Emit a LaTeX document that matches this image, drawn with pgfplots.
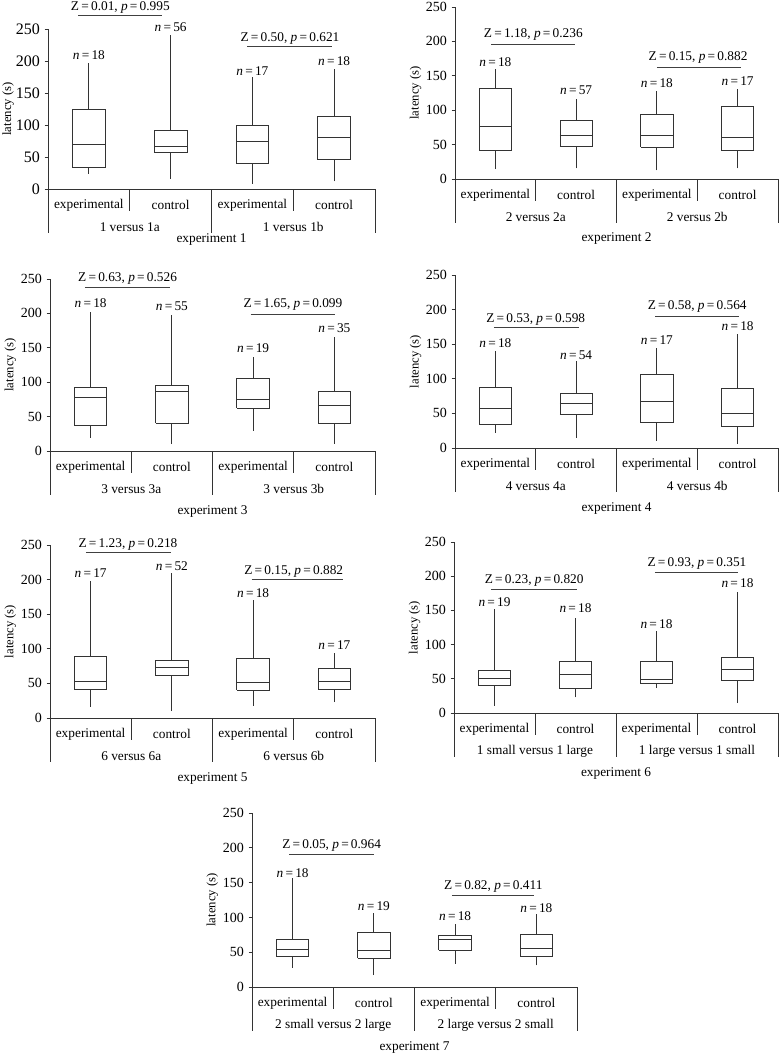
\documentclass[border=0pt]{standalone}
\usepackage{fontspec}
\setmainfont{Liberation Serif}
\usepackage{pgfplots}
\pgfplotsset{compat=1.18}

\pgfplotsset{
  panel/.style={
    scale only axis, anchor=south west,
    xmin=-0.5, xmax=3.5, ymin=0, ymax=250,
    axis lines=left, axis line style={-, black!80, line width=0.6pt},
    xtick=\empty, ytick={0,50,...,250},
    tick align=outside, major tick length=2.5pt,
    ytick style={black!80, line width=0.6pt},
    clip=false,
    ylabel={latency (s)},
    ylabel style={at={(axis description cs:-0.122,0.5)}, anchor=center, font=\fontsize{9.5}{11}\selectfont},
    yticklabel style={font=\fontsize{10.5}{12}\selectfont},
    /pgf/number format/assume math mode=true,
  },
  boxst/.style={black!80, line width=0.6pt, mark=none, forget plot},
}
% \bx{left}{centre}{right}{upper whisker}{upper quartile}{median}{lower quartile}{lower whisker}
\newcommand{\bx}[8]{%
  \addplot[boxst] coordinates {(#1,#7) (#3,#7) (#3,#5) (#1,#5) (#1,#7)};
  \addplot[boxst] coordinates {(#1,#6) (#3,#6)};
  \addplot[boxst] coordinates {(#2,#5) (#2,#4)};
  \addplot[boxst] coordinates {(#2,#8) (#2,#7)};
}
\newcommand{\nlab}[3]{\node at (axis cs:#1,#2) {\textit{n}\,=\,#3};}
\newcommand{\zlab}[7]{\draw[black!75, line width=0.7pt] (axis cs:#1,#3) -- (axis cs:#2,#3);
  \node at (axis cs:#7,#4) {Z\,=\,#5, \textit{p}\,=\,#6};}
\newcommand{\frm}[4]{%
  \draw[black!80, line width=0.6pt] (axis cs:0.5,0) -- ++(0pt,-16.5pt);
  \draw[black!80, line width=0.6pt] (axis cs:2.5,0) -- ++(0pt,-16.5pt);
  \draw[black!80, line width=0.6pt] (axis cs:-0.5,0) -- ++(0pt,-33pt);
  \draw[black!80, line width=0.6pt] (axis cs:1.5,0) -- ++(0pt,-33pt);
  \draw[black!80, line width=0.6pt] (axis cs:3.5,0) -- ++(0pt,-33pt);
  \node at ([yshift=-12pt]axis cs:0,0) {experimental};
  \node at ([yshift=-12pt]axis cs:1,0) {control};
  \node at ([yshift=-12pt]axis cs:2,0) {experimental};
  \node at ([yshift=-12pt]axis cs:3,0) {control};
  \node at ([yshift=-28.5pt]axis cs:0.5,0) {#1};
  \node at ([yshift=-28.5pt]axis cs:2.5,0) {#2};
  \node at ([yshift=-#4]axis cs:1.5,0) {#3};
}

\begin{document}
\begin{tikzpicture}
\useasboundingbox (0pt,0pt) rectangle (585pt,-789.75pt);

% Panel 1
\begin{axis}[panel, at={(36pt,-141.75pt)}, width=245.25pt, height=120pt,
  yticklabel style={font=\fontsize{12}{14}\selectfont}]
\bx{-0.2}{0}{0.2}{197}{124}{70}{33}{24}
\bx{0.8}{1}{1.2}{241}{91}{67}{57}{16}
\bx{1.8}{2}{2.2}{175}{99.5}{74}{40}{8}
\bx{2.8}{3}{3.2}{188}{113}{81}{46}{12}
\nlab{0}{209}{18}\nlab{1}{253}{56}\nlab{2}{185}{17}\nlab{3}{199.5}{18}
\zlab{-0.13}{0.9}{271}{283}{0.01}{0.995}{0.385}
\zlab{1.94}{2.98}{222}{235}{0.50}{0.621}{2.46}
\frm{1 versus 1a}{1 versus 1b}{experiment 1}{38pt}
\end{axis}

% Panel 2
\begin{axis}[panel, at={(341.25pt,-134.25pt)}, width=242.25pt, height=129pt]
\bx{-0.2}{0}{0.2}{160}{132}{76}{42}{14.5}
\bx{0.8}{1}{1.2}{117}{85}{63}{48}{15.5}
\bx{1.8}{2}{2.2}{128}{94}{63}{46}{12.5}
\bx{2.8}{3}{3.2}{131}{105}{60}{42}{15.5}
\nlab{0}{170}{18}\nlab{1}{129}{57}\nlab{2}{139}{18}\nlab{3}{142}{17}
\zlab{-0.05}{0.99}{195.5}{210}{1.18}{0.236}{0.47}
\zlab{2.0}{3.04}{162}{176}{0.15}{0.882}{2.51}
\frm{2 versus 2a}{2 versus 2b}{experiment 2}{45pt}
\end{axis}

% Panel 3
\begin{axis}[panel, at={(37.5pt,-338.25pt)}, width=243.75pt, height=129pt]
\bx{-0.2}{0}{0.2}{201.5}{92}{78}{37}{19.4}
\bx{0.8}{1}{1.2}{197}{95.5}{87}{40}{10}
\bx{1.8}{2}{2.2}{136}{105.6}{75}{62}{29.5}
\bx{2.8}{3}{3.2}{165}{87}{66}{40}{10.7}
\nlab{0}{214.6}{18}\nlab{1}{211}{55}\nlab{2}{149}{19}\nlab{3}{179}{35}
\zlab{-0.07}{0.98}{238}{251}{0.63}{0.526}{0.455}
\zlab{1.97}{3.01}{198}{213}{1.65}{0.099}{2.49}
\frm{3 versus 3a}{3 versus 3b}{experiment 3}{45pt}
\end{axis}

% Panel 4
\begin{axis}[panel, at={(341.25pt,-336pt)}, width=242.25pt, height=129.75pt]
\bx{-0.2}{0}{0.2}{140.4}{87}{57}{34}{22}
\bx{0.8}{1}{1.2}{125.5}{79}{64}{48}{15}
\bx{1.8}{2}{2.2}{145}{106}{67}{36.7}{10.6}
\bx{2.8}{3}{3.2}{165}{86}{50}{31}{6}
\nlab{0}{151}{18}\nlab{1}{134}{54}\nlab{2}{156}{17}\nlab{3}{176}{18}
\zlab{-0.02}{1.03}{174}{186}{0.53}{0.598}{0.5}
\zlab{1.98}{3.02}{190.6}{204}{0.58}{0.564}{2.5}
\frm{4 versus 4a}{4 versus 4b}{experiment 4}{45pt}
\end{axis}

% Panel 5
\begin{axis}[panel, at={(37.5pt,-538.5pt)}, width=243.75pt, height=129.75pt]
\bx{-0.2}{0}{0.2}{198}{89}{53}{41}{16}
\bx{0.8}{1}{1.2}{209.6}{82.7}{73.6}{61}{10}
\bx{1.8}{2}{2.2}{170}{86.5}{52}{40}{18}
\bx{2.8}{3}{3.2}{94}{71.6}{53}{42}{23}
\nlab{0}{210}{17}\nlab{1}{219.7}{52}\nlab{2}{180}{18}\nlab{3}{105}{17}
\zlab{-0.06}{0.99}{239}{251}{1.23}{0.218}{0.46}
\zlab{1.98}{3.1}{199.5}{211.5}{0.15}{0.882}{2.5}
\frm{6 versus 6a}{6 versus 6b}{experiment 5}{45pt}
\end{axis}

% Panel 6
\begin{axis}[panel, at={(340.5pt,-534.75pt)}, width=243pt, height=128.25pt]
\bx{-0.2}{0}{0.2}{151.5}{63}{51}{41}{10.7}
\bx{0.8}{1}{1.2}{139}{75}{57}{36.4}{23}
\bx{1.8}{2}{2.2}{120}{75}{49.5}{43}{36.4}
\bx{2.8}{3}{3.2}{176.7}{81}{64}{48}{14.6}
\nlab{0}{162.6}{19}\nlab{1}{153}{18}\nlab{2}{129.6}{18}\nlab{3}{190}{18}
\zlab{-0.04}{1.02}{181}{194}{0.23}{0.820}{0.49}
\zlab{1.98}{3.01}{205}{218}{0.93}{0.351}{2.5}
\frm{1 small versus 1 large}{1 large versus 1 small}{experiment 6}{45pt}
\end{axis}

% Panel 7
\begin{axis}[panel, at={(189pt,-740.25pt)}, width=243.75pt, height=130.5pt]
\bx{-0.2}{0}{0.2}{156}{68}{54}{44.7}{28}
\bx{0.8}{1}{1.2}{106.7}{79}{52}{41}{17}
\bx{1.8}{2}{2.2}{91}{73.6}{68}{53}{33.7}
\bx{2.8}{3}{3.2}{105}{75.5}{56}{44.7}{31}
\nlab{0}{163.5}{18}\nlab{1}{116}{19}\nlab{2}{102}{18}\nlab{3}{114}{18}
\zlab{-0.04}{1.0}{191}{204}{0.05}{0.964}{0.48}
\zlab{1.96}{2.97}{132}{144}{0.82}{0.411}{2.47}
\frm{2 small versus 2 large}{2 large versus 2 small}{experiment 7}{45pt}
\end{axis}
\end{tikzpicture}
\end{document}
